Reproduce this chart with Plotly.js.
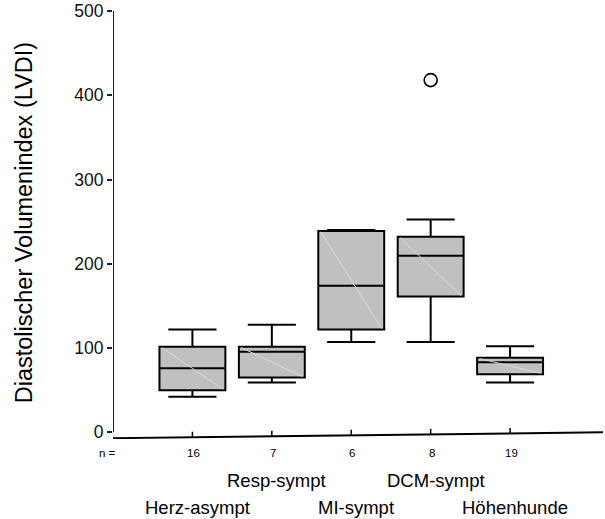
<!DOCTYPE html>
<html>
<head>
<meta charset="utf-8">
<script src="https://cdn.plot.ly/plotly-3.0.1.min.js"></script>
<style>html,body{margin:0;padding:0;background:#fff;}#chart{width:605px;height:519px;}</style>
</head>
<body>
<div id="chart"></div>
<script>
// ---- data ----
const groups = ["Herz-asympt", "Resp-sympt", "MI-sympt", "DCM-sympt", "Höhenhunde"];
const nCounts = [16, 7, 6, 8, 19];
const lowerWhisker = [42, 59, 107, 107, 59];
const q1 = [50, 65, 122, 161, 69];
const median = [76, 95.5, 174, 209.5, 83];
const q3 = [101.5, 101.5, 239, 232, 88.5];
const upperWhisker = [122, 127.5, 240, 252.5, 102];
const outlierGroup = [4];
const outlierValue = [418];
const yTicks = [0, 100, 200, 300, 400, 500];

// ---- layout helpers ----
const positions = groups.map((g, i) => i + 1);
const xMax = 6.17;
const boxWidth = 0.83;
const baseLeft = -7, baseRight = 0;
const baseAt = x => baseLeft + (baseRight - baseLeft) * x / xMax;
const FONT = "Liberation Sans, Arial, sans-serif";

const boxTrace = {
  type: "box",
  x: positions,
  q1: q1,
  median: median,
  q3: q3,
  lowerfence: lowerWhisker,
  upperfence: upperWhisker,
  boxpoints: false,
  width: boxWidth,
  whiskerwidth: 0.73,
  fillcolor: "#c0c0c0",
  line: {color: "#000", width: 2},
  hoverinfo: "skip",
  showlegend: false
};

const outTrace = {
  type: "scatter",
  mode: "markers",
  x: outlierGroup,
  y: outlierValue,
  marker: {symbol: "circle-open", size: 13, color: "#000", line: {width: 1.6, color: "#000"}},
  showlegend: false,
  hoverinfo: "skip"
};

const shapes = [
  {type: "line", xref: "x", yref: "y", x0: 0, x1: xMax, y0: baseLeft, y1: baseRight,
   line: {color: "#000", width: 2}},
  {type: "line", xref: "x", yref: "y", x0: 0, x1: 0, y0: 0, y1: 500,
   line: {color: "#222", width: 2}}
];
positions.forEach((p, i) => {
  shapes.push({type: "line", xref: "x", yref: "y", x0: p, x1: p, y0: baseAt(p), y1: baseAt(p) + 6.5,
    line: {color: "#000", width: 1.5}});
  // faint diagonal sheen inside each box
  shapes.push({type: "line", xref: "x", yref: "y", layer: "above",
    x0: p - boxWidth / 2 + 0.03, x1: p + boxWidth / 2 - 0.03, y0: q3[i] - 1, y1: q1[i] + 1,
    line: {color: "#dadada", width: 1}});
});

const annotations = [];
annotations.push({xref: "x", yref: "paper", x: 0.06, y: -0.032, xanchor: "right", yanchor: "middle",
  text: "n =", showarrow: false, font: {family: FONT, size: 11.5, color: "#000"}});
positions.forEach((p, i) => {
  annotations.push({xref: "x", yref: "paper", x: p, y: -0.032, xanchor: "center", yanchor: "middle",
    xshift: 1, text: String(nCounts[i]), showarrow: false, font: {family: FONT, size: 11.5, color: "#000"}});
  annotations.push({xref: "x", yref: "paper", x: p, y: (i % 2 === 0) ? -0.161 : -0.0958,
    xanchor: "center", yanchor: "middle", xshift: 5,
    text: groups[i], showarrow: false, font: {family: FONT, size: 18.5, color: "#000"}});
});
annotations.push({xref: "paper", yref: "paper", x: -0.1816, y: 0.504, xanchor: "center", yanchor: "middle",
  textangle: -90, text: "Diastolischer Volumenindex (LVDI)", showarrow: false,
  font: {family: FONT, size: 23.5, color: "#000"}});

const layout = {
  width: 605, height: 519,
  margin: {l: 113, r: 2, t: 11, b: 80, pad: 0},
  paper_bgcolor: "#fff", plot_bgcolor: "#fff",
  showlegend: false,
  xaxis: {range: [0, xMax], showgrid: false, zeroline: false, showline: false,
          showticklabels: false, ticks: "", fixedrange: true},
  yaxis: {range: [-8, 500], tickvals: yTicks, showgrid: false, zeroline: false, showline: false,
          ticks: "outside", ticklen: 5, tickwidth: 2, tickcolor: "#222",
          tickfont: {family: FONT, size: 17.5, color: "#111"}, fixedrange: true},
  shapes: shapes,
  annotations: annotations,
  font: {family: FONT}
};

Plotly.newPlot("chart", [boxTrace, outTrace], layout, {staticPlot: true, displayModeBar: false});
</script>
</body>
</html>
